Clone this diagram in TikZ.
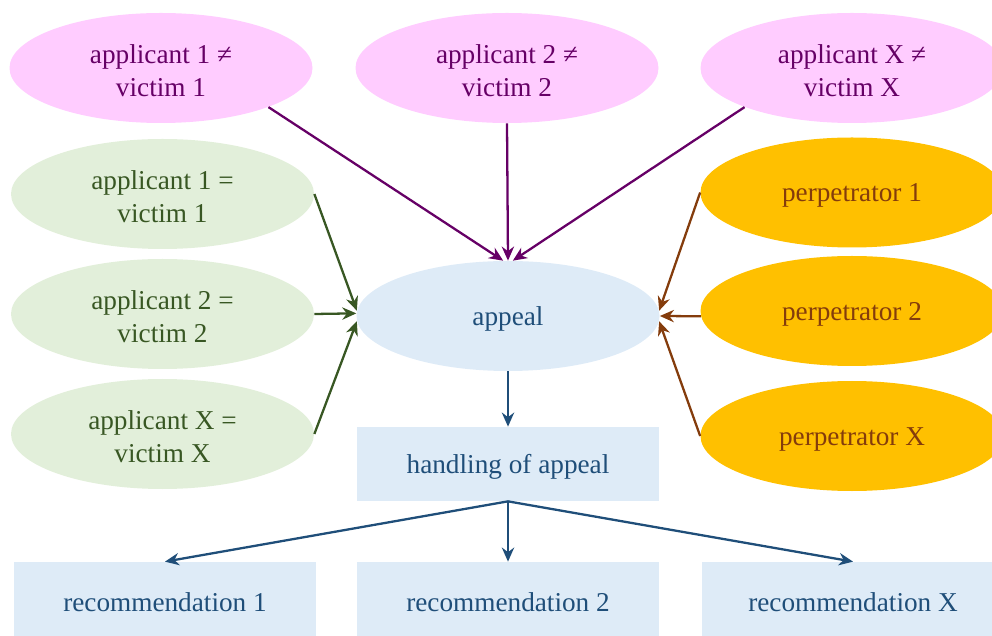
\documentclass[tikz,border=0pt]{standalone}
\usepackage{fontspec}
\setmainfont{Liberation Serif}
\usepackage{xcolor}
\usepackage{tikz}
\usetikzlibrary{arrows.meta, shapes.geometric}
\definecolor{PinkFill}{HTML}{FFCCFF}
\definecolor{PinkDark}{HTML}{660066}
\definecolor{GreenFill}{HTML}{E2EFDA}
\definecolor{GreenDark}{HTML}{385723}
\definecolor{GoldFill}{HTML}{FFC000}
\definecolor{BrownDark}{HTML}{843C0C}
\definecolor{BlueFill}{HTML}{DEEBF7}
\definecolor{BlueDark}{HTML}{1F4E79}
\newcommand\lift{\rule{0pt}{14pt}}

\begin{document}
\begin{tikzpicture}[
  oval/.style={ellipse, minimum width=6.06cm, minimum height=2.2cm, inner sep=0pt,
    align=center, font=\fontsize{15.5}{18.7}\selectfont},
  box/.style={rectangle, fill=BlueFill, text=BlueDark, minimum width=6.04cm,
    minimum height=1.48cm, inner sep=0pt, font=\fontsize{15.5}{18.7}\selectfont},
  link/.style={line width=1.3pt, -{Stealth[length=8pt, width=7pt]}}
]
  \useasboundingbox (0,0) rectangle (19.84,12.7);
  \clip (0,0) rectangle (19.84,12.7);

  % applicants who are not the victim
  \node[oval, fill=PinkFill, text=PinkDark] (other1) at (3.22,11.34) {\lift applicant 1 ≠\\victim 1};
  \node[oval, fill=PinkFill, text=PinkDark] (other2) at (10.14,11.34) {\lift applicant 2 ≠\\victim 2};
  \node[oval, fill=PinkFill, text=PinkDark] (otherX) at (17.04,11.34) {\lift applicant X ≠\\victim X};

  % applicants who are the victim
  \node[oval, fill=GreenFill, text=GreenDark] (self1) at (3.25,8.82) {\lift applicant 1 =\\victim 1};
  \node[oval, fill=GreenFill, text=GreenDark] (self2) at (3.25,6.42) {\lift applicant 2 =\\victim 2};
  \node[oval, fill=GreenFill, text=GreenDark] (selfX) at (3.25,4.02) {\lift applicant X =\\victim X};

  % perpetrators
  \node[oval, fill=GoldFill, text=BrownDark] (perp1) at (17.04,8.85) {\lift perpetrator 1};
  \node[oval, fill=GoldFill, text=BrownDark] (perp2) at (17.04,6.48) {\lift perpetrator 2};
  \node[oval, fill=GoldFill, text=BrownDark] (perpX) at (17.04,3.98) {\lift perpetrator X};

  \node[oval, fill=BlueFill, text=BlueDark] (appeal) at (10.16,6.38) {\lift appeal};
  \node[box] (handling) at (10.16,3.42) {\lift handling of appeal};

  \node[box] (rec1) at (3.3,0.72) {\lift recommendation 1};
  \node[box] (rec2) at (10.16,0.72) {\lift recommendation 2};
  \node[box] (recX) at (17.06,0.72) {\lift recommendation X};

  \draw[link, PinkDark] (other1.340) -- (appeal.95);
  \draw[link, PinkDark] (other2.south) -- (appeal.90);
  \draw[link, PinkDark] (otherX.200) -- (appeal.85);

  \draw[link, GreenDark] (self1.east) -- (appeal.178);
  \draw[link, GreenDark] (self2.east) -- (appeal.179);
  \draw[link, GreenDark] (selfX.east) -- (appeal.182);

  \draw[link, BrownDark] (perp1.west) -- (appeal.2);
  \draw[link, BrownDark] (perp2.182) -- (appeal.east);
  \draw[link, BrownDark] (perpX.west) -- (appeal.358);

  \draw[link, BlueDark] (appeal.south) -- (handling.north);
  \draw[link, BlueDark] (handling.south) -- (rec1.north);
  \draw[link, BlueDark] (handling.south) -- (rec2.north);
  \draw[link, BlueDark] (handling.south) -- (recX.north);
\end{tikzpicture}
\end{document}
